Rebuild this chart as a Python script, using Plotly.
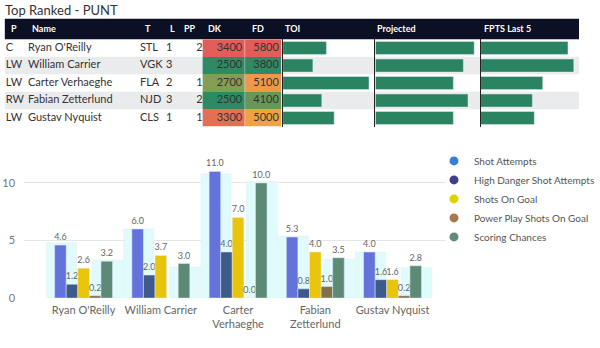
import plotly.graph_objects as go

W, H = 600, 348

# ---------------- data ----------------
names = ["Ryan O'Reilly", "William Carrier", "Carter Verhaeghe", "Fabian Zetterlund", "Gustav Nyquist"]
tick_labels = ["Ryan O'Reilly", "William Carrier", "Carter<br>Verhaeghe", "Fabian<br>Zetterlund", "Gustav Nyquist"]
positions = ["C", "LW", "LW", "RW", "LW"]
teams = ["STL", "VGK", "FLA", "NJD", "CLS"]
lines = ["1", "3", "2", "3", "1"]
pp_units = ["2", "", "1", "2", "1"]
dk_salary = [3400, 2500, 2700, 2500, 3300]
fd_salary = [5800, 3800, 5100, 4100, 5000]
toi = [11.3, 7.8, 22.3, 10.1, 13.3]
projected = [12.8, 11.4, 10.1, 12.0, 10.1]
fpts_last5 = [13.5, 14.4, 9.6, 8.0, 8.3]

header_labels = ["P", "Name", "T", "L", "PP", "DK", "FD", "TOI", "Projected", "FPTS Last 5"]

series_names = ["Shot Attempts", "High Danger Shot Attempts", "Shots On Goal",
                "Power Play Shots On Goal", "Scoring Chances"]
shot_attempts = [4.6, 6.0, 11.0, 5.3, 4.0]
high_danger = [1.2, 2.0, 4.0, 0.8, 1.6]
shots_on_goal = [2.6, 3.7, 7.0, 4.0, 1.6]
pp_shots_on_goal = [0.2, None, 0.0, 1.0, 0.2]
scoring_chances = [3.2, 3.0, 10.0, 3.5, 2.8]
# faint highlight blocks seen behind the bars
ghost_a = [4.8, 6.0, 10.8, 5.4, 4.0]
ghost_b = [3.3, 2.7, 10.1, 3.4, 2.65]

# ---------------- styles ----------------
FONT = "Lato"
bar_colors = ["#6473dc", "#3d5a8a", "#e8c40a", "#82704a", "#5c8a76"]
legend_colors = ["#3380d8", "#403f8a", "#dcd400", "#a57a4e", "#5e8c78"]
salary_scale = [[0.0, "#2e8a63"], [0.5, "#f1b33f"], [1.0, "#e25c5a"]]
row_colors = ["#ffffff", "#eaebed", "#ffffff", "#eaebed", "#ffffff"]
databar_color = "#2b8461"
HEADER_BG = "#0b1024"

TABLE_TOP, HEADER_BOTTOM, ROW_H = 19, 40, 17.8
TABLE_BOTTOM = HEADER_BOTTOM + ROW_H * len(names)


def px_x(p):
    return p / W


def px_y(p):
    return 1 - p / H


fig = go.Figure()
shapes, annotations = [], []

# ---------------- table ----------------
# header band and row stripes
shapes.append(dict(type="rect", xref="paper", yref="paper", layer="below",
                   x0=px_x(5), x1=1, y0=px_y(HEADER_BOTTOM), y1=px_y(TABLE_TOP),
                   fillcolor=HEADER_BG, line_width=0))
for i, c in enumerate(row_colors):
    if c != "#ffffff":
        shapes.append(dict(type="rect", xref="paper", yref="paper", layer="below",
                           x0=px_x(5), x1=1,
                           y0=px_y(HEADER_BOTTOM + ROW_H * (i + 1)),
                           y1=px_y(HEADER_BOTTOM + ROW_H * i),
                           fillcolor=c, line_width=0))

header_x = [9, 31, 148, 174, 189, 213, 259, 293, 389, 499]
for lab, hx in zip(header_labels, header_x):
    annotations.append(dict(text="<b>%s</b>" % lab, x=px_x(hx), xanchor="left",
                            y=px_y((TABLE_TOP + HEADER_BOTTOM) / 2), yanchor="middle",
                            xref="paper", yref="paper", showarrow=False,
                            font=dict(family=FONT, size=9, color="white")))

# conditional-colour salary cells (heatmaps, one per column)
for vals, x0, x1 in [(dk_salary, 210, 254), (fd_salary, 254, 291)]:
    fig.add_trace(go.Heatmap(z=[[v] for v in vals], x=[x0, x1], y=names,
                             zmin=min(vals), zmax=max(vals), colorscale=salary_scale,
                             showscale=False, hoverinfo="skip", xaxis="x6", yaxis="y6"))

# text columns
text_cols = [(positions, 6, "middle right"), (names, 29, "middle right"),
             (teams, 145, "middle right"), (lines, 172, "middle right"),
             (pp_units, 210, "middle left"),
             ([str(v) for v in dk_salary], 251, "middle left"),
             ([str(v) for v in fd_salary], 289, "middle left")]
for vals, tx, pos in text_cols:
    fig.add_trace(go.Scatter(x=[tx] * len(names), y=names, text=vals, mode="text",
                             textposition=pos, showlegend=False, hoverinfo="skip",
                             textfont=dict(family=FONT, size=11, color="#333333"),
                             cliponaxis=False, xaxis="x6", yaxis="y6"))

# data bars in the table
bar_cols = [(toi, 293, 388, "x3", "y3", 23.7), (projected, 389, 497, "x4", "y4", 13.5),
            (fpts_last5, 498, 600, "x5", "y5", 15.2)]
for vals, x0, x1, xa, ya, rmax in bar_cols:
    fig.add_trace(go.Bar(x=vals, y=names, orientation="h", marker_color=databar_color,
                         xaxis=xa, yaxis=ya, showlegend=False, hoverinfo="skip"))

# ---------------- chart ----------------
fig.add_trace(go.Bar(x=tick_labels, y=ghost_a, offset=-0.48, width=0.39,
                     marker_color="#dffbfb", showlegend=False, hoverinfo="skip",
                     xaxis="x", yaxis="y"))
fig.add_trace(go.Bar(x=tick_labels, y=ghost_b, offset=0.11, width=0.40,
                     marker_color="#dffbfb", showlegend=False, hoverinfo="skip",
                     xaxis="x", yaxis="y"))

series = [shot_attempts, high_danger, shots_on_goal, pp_shots_on_goal, scoring_chances]
for nm, vals, col in zip(series_names, series, bar_colors):
    fig.add_trace(go.Bar(
        x=tick_labels, y=vals, name=nm, marker_color=col, showlegend=False,
        text=[("" if v is None else "%.1f" % v) for v in vals],
        textposition="outside", textfont=dict(family=FONT, size=9, color="#666666"),
        constraintext="none", cliponaxis=False, xaxis="x2", yaxis="y2"))

for nm, col in zip(series_names, legend_colors):
    fig.add_trace(go.Scatter(x=[None], y=[None], mode="markers", name=nm,
                             marker=dict(symbol="circle", size=9, color=col),
                             xaxis="x2", yaxis="y2"))

xdom = [px_x(25), px_x(462)]
ydom = [px_y(303.3), px_y(158)]
xr = [-0.77, 4.69]
yr = [0, 12.4]
row_dom = [px_y(TABLE_BOTTOM), px_y(HEADER_BOTTOM)]
row_range = [len(names) - 0.5, -0.5]

layout_axes = dict(
    xaxis=dict(domain=xdom, range=xr, type="category", showgrid=False, zeroline=False,
               showline=False, ticks="", tickfont=dict(family=FONT, size=11, color="#666666"),
               ticklabelstandoff=4, anchor="y"),
    yaxis=dict(domain=ydom, range=yr, showgrid=True, gridcolor="#e6e6e6", zeroline=False,
               tickvals=[0, 5, 10], tickfont=dict(family=FONT, size=11, color="#777777"),
               ticks="", ticklabelstandoff=8, anchor="x"),
    xaxis2=dict(domain=xdom, range=xr, type="category", overlaying="x", visible=False,
                anchor="y2"),
    yaxis2=dict(domain=ydom, range=yr, overlaying="y", visible=False, anchor="x2"),
    xaxis6=dict(domain=[0, 1], range=[0, W], visible=False, anchor="y6"),
    yaxis6=dict(domain=row_dom, type="category", range=row_range, visible=False,
                anchor="x6"),
)
for vals, x0, x1, xa, ya, rmax in bar_cols:
    layout_axes["xaxis" + xa[1:]] = dict(domain=[px_x(x0), px_x(x1)], range=[0, rmax],
                                         visible=False, anchor=ya)
    layout_axes["yaxis" + ya[1:]] = dict(domain=row_dom, type="category", range=row_range,
                                         showticklabels=False, showgrid=False,
                                         zeroline=False, showline=True,
                                         linecolor="#222222", linewidth=1,
                                         ticks="", anchor=xa)

fig.update_layout(
    width=W, height=H,
    margin=dict(l=0, r=0, t=0, b=0),
    paper_bgcolor="white", plot_bgcolor="rgba(0,0,0,0)",
    barmode="group", bargap=0.25, bargroupgap=0,
    font=dict(family=FONT, color="#333333"),
    title=dict(text="Top Ranked - PUNT", x=px_x(5), xanchor="left", y=px_y(10),
               yanchor="middle", font=dict(family=FONT, size=13, color="#333333")),
    legend=dict(x=px_x(450), xanchor="left", y=px_y(149), yanchor="top",
                font=dict(family=FONT, size=10, color="#555555"),
                bgcolor="rgba(0,0,0,0)", itemclick=False, tracegroupgap=0),
    showlegend=True,
    shapes=shapes, annotations=annotations,
    **layout_axes,
)

fig.write_html("out.html")
